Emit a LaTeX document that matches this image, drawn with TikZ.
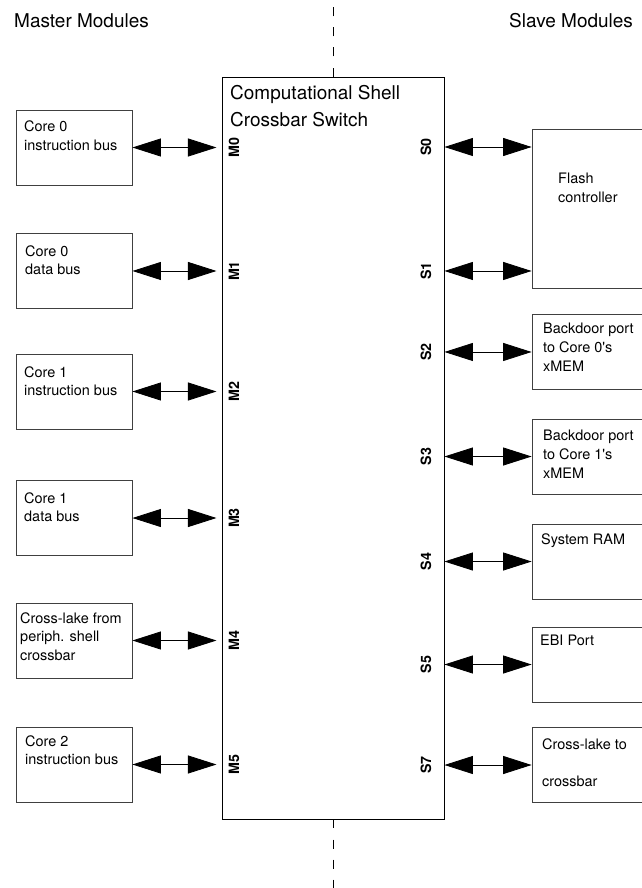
\documentclass[tikz,border=0pt]{standalone}
\usepackage{fontspec}
\setmainfont{TeX Gyre Heros}
\usetikzlibrary{arrows.meta}

\begin{document}
\begin{tikzpicture}[
  big/.style={anchor=north west, inner sep=0pt, align=left, font=\fontsize{18}{25}\selectfont},
  unit/.style={draw=black!75, line width=0.7pt, minimum width=3.87cm, minimum height=2.5cm, inner sep=0pt},
  slv/.style={unit, minimum width=4cm},
  txt/.style={anchor=north west, inner sep=0pt, align=left, font=\fontsize{13.7}{18}\selectfont},
  port/.style={rotate=90, inner sep=0pt, font=\fontsize{13.5}{15}\selectfont\bfseries},
  biarr/.style={>={Triangle[length=0.95cm,width=0.6cm]}, <->, line width=0.8pt},
  divider/.style={dash pattern=on 0.3cm off 0.37cm, line width=0.7pt}]
\useasboundingbox (0,0) rectangle (21.367,-29.6);
% ---------------- headings ----------------
\node[big] (mhead) at (0.467,-0.45) {Master Modules};
\node[big] (shead) at (16.967,-0.45) {Slave Modules};
% ---------------- crossbar ----------------
\node[draw, line width=0.8pt, minimum width=7.4cm, minimum height=24.733cm, inner sep=0pt] (xbar) at (11.10,-14.933) {};
\node[big] (xtitle) at (7.667,-2.85) {Computational Shell\\Crossbar Switch};
\coordinate (dtop) at (11.10,0);
\coordinate (dbot) at (11.10,-29.6);
\draw[divider] (xbar.north) -- (dtop);
\draw[divider] (xbar.south) -- (dbot);
% ---------------- master modules (left column) ----------------
\node[unit] (c0i) at (2.467,-4.917) {};
\node[unit] (c0d) at (2.467,-9.033) {};
\node[unit] (c1i) at (2.467,-13.05) {};
\node[unit] (c1d) at (2.467,-17.267) {};
\node[unit] (xlp) at (2.467,-21.35) {};
\node[unit] (c2i) at (2.467,-25.483) {};
\node[txt] (c0it) at (0.80,-4.033) {Core 0\\instruction bus};
\node[txt] (c0dt) at (0.833,-8.167) {Core 0\\data bus};
\node[txt] (c1it) at (0.80,-12.20) {Core 1\\instruction bus};
\node[txt] (c1dt) at (0.80,-16.40) {Core 1\\data bus};
\node[txt] (xlpt) at (0.667,-20.40) {Cross-lake from\\periph. shell\\crossbar};
\node[txt] (c2it) at (0.833,-24.50) {Core 2\\instruction bus};
% ---------------- master ports ----------------
\node[port] (m0) at (7.80,-4.917) {M0};
\node[port] (m1) at (7.80,-9.033) {M1};
\node[port] (m2) at (7.80,-13.05) {M2};
\node[port] (m3) at (7.80,-17.267) {M3};
\node[port] (m4) at (7.80,-21.35) {M4};
\node[port] (m5) at (7.80,-25.483) {M5};
% ---------------- slave modules (right column) ----------------
\node[slv, minimum height=5.3cm] (flash) at (19.733,-6.95) {};
\node[slv] (bd0) at (19.733,-11.733) {};
\node[slv] (bd1) at (19.733,-15.217) {};
\node[slv] (ram) at (19.733,-18.717) {};
\node[slv] (ebi) at (19.733,-22.15) {};
\node[slv] (xlc) at (19.733,-25.50) {};
\node[txt] (flasht) at (18.60,-5.767) {Flash\\controller};
\node[txt] (bd0t) at (18.10,-10.767) {Backdoor port\\to Core 0\textquotesingle s\\xMEM};
\node[txt] (bd1t) at (18.10,-14.333) {Backdoor port\\to Core 1\textquotesingle s\\xMEM};
\node[txt] (ramt) at (18.033,-17.767) {System RAM};
\node[txt] (ebit) at (18.0,-21.167) {EBI Port};
\node[txt] (xlct) at (18.067,-24.60) {Cross-lake to\\[18pt]crossbar};
% ---------------- slave ports ----------------
\node[port] (s0) at (14.20,-4.90) {S0};
\node[port] (s1) at (14.20,-9.033) {S1};
\node[port] (s2) at (14.20,-11.733) {S2};
\node[port] (s3) at (14.20,-15.217) {S3};
\node[port] (s4) at (14.20,-18.717) {S4};
\node[port] (s5) at (14.20,-22.15) {S5};
\node[port] (s7) at (14.20,-25.50) {S7};
% ---------------- connections ----------------
\draw[biarr, shorten >=0.17cm] (c0i.east) -- (c0i.east -| xbar.west);
\draw[biarr, shorten >=0.17cm] (c0d.east) -- (c0d.east -| xbar.west);
\draw[biarr, shorten >=0.17cm] (c1i.east) -- (c1i.east -| xbar.west);
\draw[biarr, shorten >=0.17cm] (c1d.east) -- (c1d.east -| xbar.west);
\draw[biarr, shorten >=0.17cm] (xlp.east) -- (xlp.east -| xbar.west);
\draw[biarr, shorten >=0.17cm] (c2i.east) -- (c2i.east -| xbar.west);
\draw[biarr] (xbar.east |- s0) -- (flash.west |- s0);
\draw[biarr] (xbar.east |- s1) -- (flash.west |- s1);
\draw[biarr] (xbar.east |- bd0.west) -- (bd0.west);
\draw[biarr] (xbar.east |- bd1.west) -- (bd1.west);
\draw[biarr] (xbar.east |- ram.west) -- (ram.west);
\draw[biarr] (xbar.east |- ebi.west) -- (ebi.west);
\draw[biarr] (xbar.east |- xlc.west) -- (xlc.west);
\end{tikzpicture}
\end{document}
